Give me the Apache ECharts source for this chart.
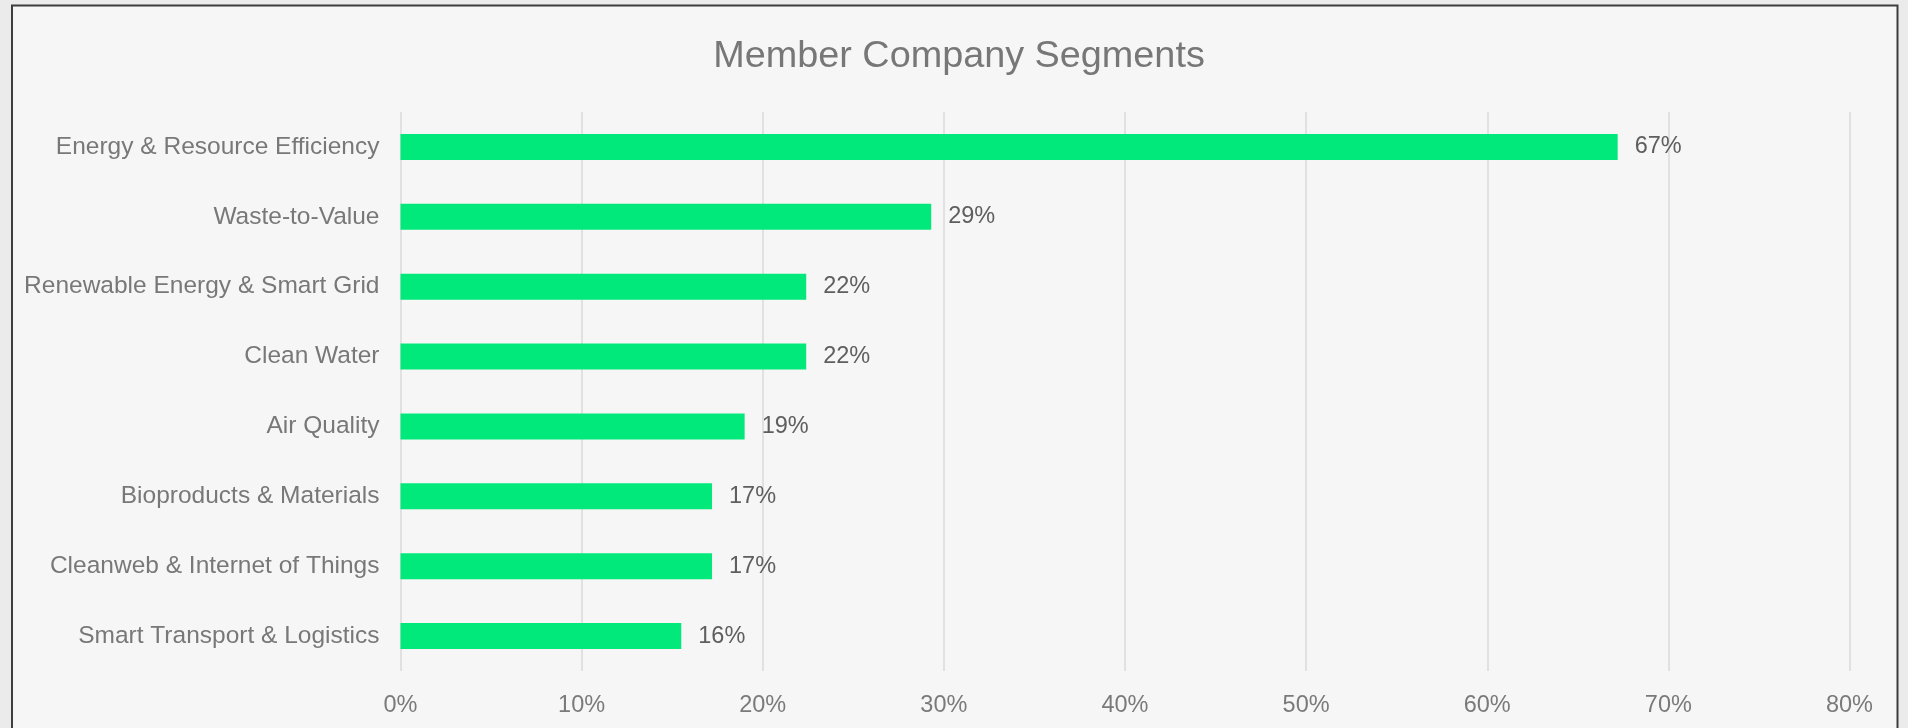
<!DOCTYPE html>
<html>
<head>
<meta charset="utf-8">
<title>Member Company Segments</title>
<script src="https://cdn.jsdelivr.net/npm/echarts@6/dist/echarts.min.js"></script>
<style>
  html, body { margin: 0; padding: 0; background: #ececec; }
  #chart { width: 1908px; height: 728px; }
</style>
</head>
<body>
<div id="chart"></div>
<script>
// Segments, listed top to bottom
const segments = [
  'Energy & Resource Efficiency',
  'Waste-to-Value',
  'Renewable Energy & Smart Grid',
  'Clean Water',
  'Air Quality',
  'Bioproducts & Materials',
  'Cleanweb & Internet of Things',
  'Smart Transport & Logistics'
];
// Share of member companies in each segment (%)
const shares = [67.2, 29.3, 22.4, 22.4, 19.0, 17.2, 17.2, 15.5];
// Value axis ticks (%)
const tickValues = [0, 10, 20, 30, 40, 50, 60, 70, 80];

const FONT = '"Liberation Sans", Arial, Helvetica, sans-serif';

const chart = echarts.init(document.getElementById('chart'), null, { renderer: 'canvas' });

chart.setOption({
  backgroundColor: '#ebebeb',
  animation: false,
  title: {
    text: 'Member Company Segments',
    left: 954,
    top: 33,
    textAlign: 'center',
    textStyle: { fontFamily: FONT, fontSize: 37.8, fontWeight: 'normal', color: '#777777' }
  },
  graphic: [{
    type: 'rect',
    z: -10,
    silent: true,
    shape: { x: 12, y: 5.5, width: 1885.5, height: 740 },
    style: { fill: '#f6f6f6', stroke: '#3d3d3d', lineWidth: 2 }
  }],
  grid: { left: 400.5, right: 58.5, top: 112, bottom: 57, containLabel: false },
  xAxis: {
    type: 'value',
    min: tickValues[0],
    max: tickValues[tickValues.length - 1],
    interval: tickValues[1] - tickValues[0],
    axisLine: { show: false },
    axisTick: { show: false },
    splitLine: { show: true, lineStyle: { color: '#dadada', width: 1.5 } },
    axisLabel: {
      margin: 23,
      fontFamily: FONT, fontSize: 23.5, color: '#7a7a7a',
      formatter: v => v + '%'
    }
  },
  yAxis: {
    type: 'category',
    inverse: true,
    data: segments,
    axisLine: { show: false },
    axisTick: { show: false },
    splitLine: { show: false },
    axisLabel: {
      margin: 21, padding: [6, 0, 0, 0],
      fontFamily: FONT, fontSize: 24.5, color: '#787878'
    }
  },
  series: [{
    type: 'bar',
    data: shares,
    barWidth: 26,
    itemStyle: { color: '#00e97a' },
    label: {
      show: true,
      position: 'right',
      distance: 17,
      padding: [6, 0, 0, 0],
      fontFamily: FONT, fontSize: 23.5, color: '#5e5e5e',
      formatter: p => Math.round(p.value) + '%'
    }
  }]
});
</script>
</body>
</html>
